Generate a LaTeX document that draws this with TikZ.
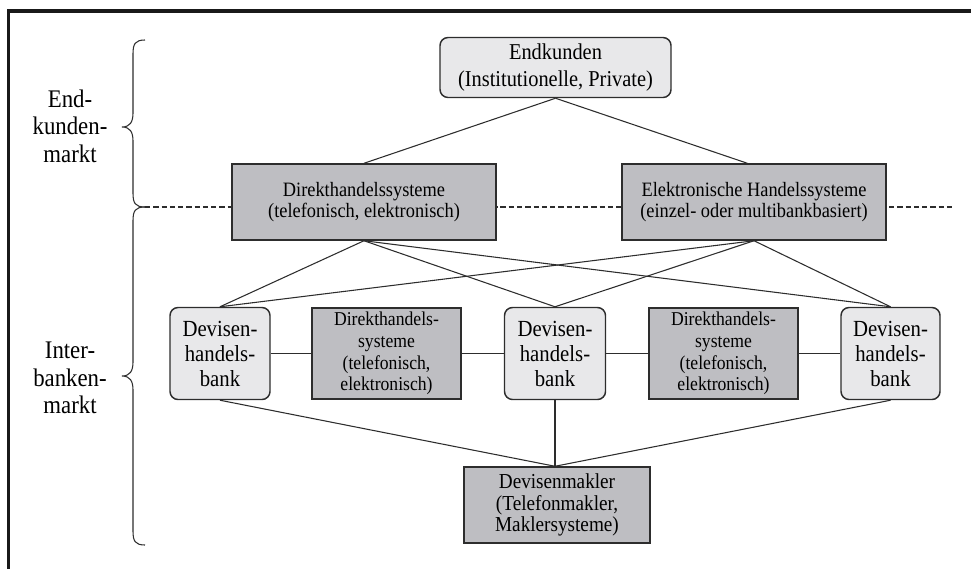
\documentclass[tikz,border=0pt]{standalone}
\usepackage{fontspec}
\setmainfont[FakeStretch=0.9]{Liberation Serif}
\definecolor{lightfill}{RGB}{232,232,234}
\definecolor{darkfill}{RGB}{190,190,194}
\definecolor{edge}{RGB}{45,45,45}
\begin{document}
\begin{tikzpicture}[x=0.75pt,y=-0.75pt,
  lbox/.style={draw=edge, line width=1.1pt, fill=lightfill, rounded corners=6pt, align=center, inner sep=0pt},
  dbox/.style={draw=edge, line width=1.1pt, fill=darkfill, align=center, inner sep=0pt},
  conn/.style={draw=edge, line width=0.8pt},
  bracestyle/.style={draw=edge, line width=0.8pt},
  sidelabel/.style={align=center, font=\fontsize{19}{20.6}\selectfont},
]
\useasboundingbox (0,0) rectangle (971,568);
\clip (0,0) rectangle (971,568);
% frame (cropped)
\draw[line width=2.4pt, black!90] (8.5,620) -- (8.5,11) -- (1020,11);

% dashed separation line
\coordinate (dL) at (145,207);
\coordinate (dR) at (955,207);
\draw[edge, line width=1.2pt, dash pattern=on 4pt off 2.2pt] (dL) -- (dR);

% braces
\draw[bracestyle] (145,40) .. controls (135,40) and (133,44) .. (133,54) -- (133,113)
  .. controls (133,122) and (130,127) .. (122,127)
  .. controls (130,127) and (133,132) .. (133,141) -- (133,193)
  .. controls (133,203) and (135,207) .. (145,207);
\draw[bracestyle] (145,207) .. controls (135,207) and (133,211) .. (133,221) -- (133,362)
  .. controls (133,371) and (130,376) .. (122,376)
  .. controls (130,376) and (133,381) .. (133,390) -- (133,531)
  .. controls (133,541) and (135,545) .. (145,545);

% side labels
\node[sidelabel] (lab1) at (70,126) {End-\\kunden-\\markt};
\node[sidelabel] (lab2) at (70,378) {Inter-\\banken-\\markt};

% nodes
\node[lbox, minimum width=173.25pt, minimum height=45pt,
      font=\fontsize{17}{20.25}\selectfont] (endk) at (555.5,67.5)
      {Endkunden\\(Institutionelle, Private)};
\node[dbox, minimum width=198pt, minimum height=57pt,
      font=\fontsize{15.3}{16.2}\selectfont] (dhs) at (364,202)
      {Direkthandelssysteme\\(telefonisch, elektronisch)};
\node[dbox, minimum width=198pt, minimum height=57pt,
      font=\fontsize{15.3}{16.2}\selectfont] (ehs) at (754,202)
      {Elektronische Handelssysteme\\(einzel- oder multibankbasiert)};

\node[lbox, minimum width=75pt, minimum height=69pt,
      font=\fontsize{17.3}{18.75}\selectfont] (bank1) at (220,353.5)
      {Devisen-\\handels-\\bank};
\node[dbox, minimum width=111.75pt, minimum height=68.25pt,
      font=\fontsize{14.7}{16.25}\selectfont] (mid1) at (386.5,353.5)
      {Direkthandels-\\systeme\\(telefonisch,\\elektronisch)};
\node[lbox, minimum width=75.75pt, minimum height=69pt,
      font=\fontsize{17.3}{18.75}\selectfont] (bank2) at (555,353.5)
      {Devisen-\\handels-\\bank};
\node[dbox, minimum width=111.75pt, minimum height=68.25pt,
      font=\fontsize{14.7}{16.25}\selectfont] (mid2) at (723.5,353.5)
      {Direkthandels-\\systeme\\(telefonisch,\\elektronisch)};
\node[lbox, minimum width=74.25pt, minimum height=69pt,
      font=\fontsize{17.3}{18.75}\selectfont] (bank3) at (890.5,353.5)
      {Devisen-\\handels-\\bank};

\node[dbox, minimum width=139.5pt, minimum height=57pt,
      font=\fontsize{16}{16.25}\selectfont] (makler) at (557,505)
      {Devisenmakler\\(Telefonmakler,\\Maklersysteme)};

% connectors
\draw[conn] (endk.south) -- (dhs.north);
\draw[conn] (endk.south) -- ([xshift=-5pt]ehs.north);
\foreach \b in {bank1,bank2,bank3}{
  \draw[conn] (dhs.south) -- (\b.north);
  \draw[conn] (ehs.south) -- (\b.north);
}
\draw[conn] (bank1.south) -- (bank2.south |- makler.north);
\draw[conn] (bank2.south) -- (bank2.south |- makler.north);
\draw[conn] (bank3.south) -- (bank2.south |- makler.north);
\draw[conn] (bank1.east) -- (mid1.west);
\draw[conn] (mid1.east) -- (bank2.west);
\draw[conn] (bank2.east) -- (mid2.west);
\draw[conn] (mid2.east) -- (bank3.west);
\end{tikzpicture}
\end{document}
